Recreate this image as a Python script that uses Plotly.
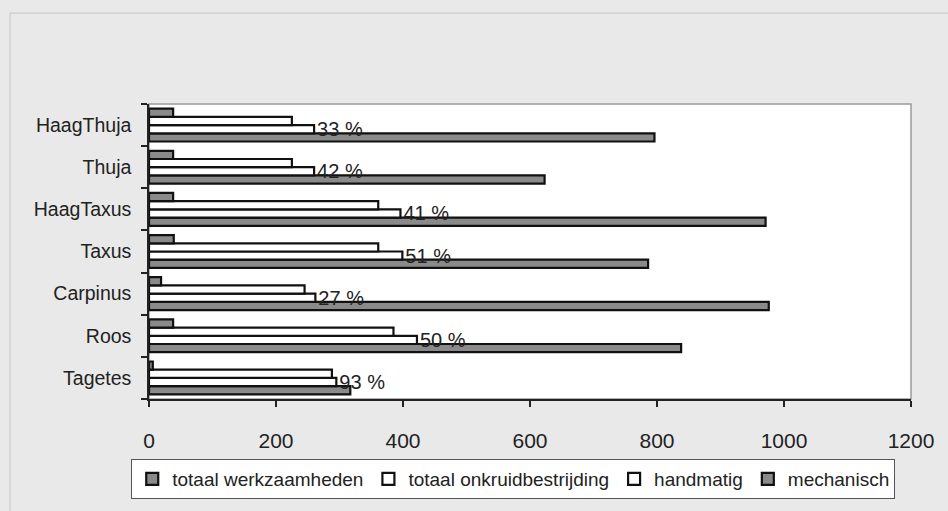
import plotly.graph_objects as go

categories = ["Tagetes", "Roos", "Carpinus", "Taxus", "HaagTaxus", "Thuja", "HaagThuja"]
totaal_werkzaamheden = [317, 838, 976, 786, 971, 623, 796]
totaal_onkruidbestrijding = [295, 422, 262, 399, 396, 260, 260]
handmatig = [288, 385, 245, 361, 361, 225, 225]
mechanisch = [6, 38, 19, 39, 38, 38, 38]
percent_labels = ["93 %", "50 %", "27 %", "51 %", "41 %", "42 %", "33 %"]
x_ticks = [0, 200, 400, 600, 800, 1000, 1200]

FONT = "Liberation Sans, Arial, sans-serif"
DARK = "#8a8a8a"
LINE = dict(color="#111111", width=2.2)

fig = go.Figure()
fig.add_trace(go.Bar(y=categories, x=totaal_werkzaamheden, orientation="h",
                     name="totaal werkzaamheden", marker=dict(color=DARK, line=LINE)))
fig.add_trace(go.Bar(y=categories, x=totaal_onkruidbestrijding, orientation="h",
                     name="totaal onkruidbestrijding", marker=dict(color="white", line=LINE),
                     text=percent_labels, textposition="outside", constraintext="none",
                     cliponaxis=False, textfont=dict(family=FONT, size=20, color="#222")))
fig.add_trace(go.Bar(y=categories, x=handmatig, orientation="h",
                     name="handmatig", marker=dict(color="white", line=LINE)))
fig.add_trace(go.Bar(y=categories, x=mechanisch, orientation="h",
                     name="mechanisch", marker=dict(color=DARK, line=LINE)))

W, H = 948, 511
L, R, T, B = 149, 37, 104, 102
pw, ph = W - L - R, H - T - B

def px_x(px):
    return (px - L) / pw

def px_y(py):
    return (H - B - py) / ph

fig.update_layout(
    width=W, height=H,
    margin=dict(l=L, r=R, t=T, b=B),
    paper_bgcolor="#e9e9e9",
    plot_bgcolor="white",
    barmode="group",
    bargap=0.22,
    bargroupgap=0,
    font=dict(family=FONT, size=19, color="#222"),
    xaxis=dict(range=[0, 1200], tickvals=x_ticks, ticks="outside", ticklen=6,
               tickwidth=1.5, tickcolor="#222", showgrid=False, zeroline=False,
               showline=True, linecolor="#222", linewidth=1.5,
               ticklabelstandoff=16,
               tickfont=dict(family=FONT, size=21, color="#222")),
    yaxis=dict(ticks="outside", ticklen=6, tickwidth=1.5, tickcolor="#222",
               tickson="boundaries", showgrid=False, showline=True,
               linecolor="#222", linewidth=1.5, ticklabelstandoff=12,
               tickfont=dict(family=FONT, size=19.5, color="#222")),
    legend=dict(orientation="h", x=0.478, xanchor="center", y=px_y(471), yanchor="top",
                bgcolor="white", bordercolor="#555", borderwidth=1,
                font=dict(family=FONT, size=19, color="#222"),
                itemwidth=30, tracegroupgap=0),
    showlegend=True,
    shapes=[
        dict(type="rect", xref="paper", yref="paper", x0=0, x1=1, y0=0, y1=1,
             line=dict(color="#9a9a9a", width=1.5), layer="below"),
        dict(type="line", xref="paper", yref="paper", x0=px_x(10), x1=px_x(960),
             y0=px_y(10), y1=px_y(10), line=dict(color="#c4c4c4", width=1)),
        dict(type="line", xref="paper", yref="paper", x0=px_x(10), x1=px_x(10),
             y0=px_y(10), y1=px_y(530), line=dict(color="#c4c4c4", width=1)),
    ],
)

fig.write_html("out.html", config={"displayModeBar": False},
               post_script="document.body.style.margin='0px';document.body.style.padding='0px';")
